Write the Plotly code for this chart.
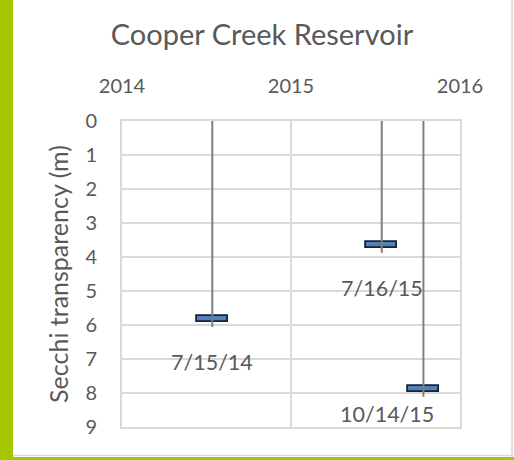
import plotly.graph_objects as go

# ---- data ----
dates = ["2014-07-15", "2015-07-16", "2015-10-14"]
labels = ["7/15/14", "7/16/15", "10/14/15"]
secchi = [5.82, 3.64, 7.87]
year_ticks = ["2014-01-01", "2015-01-01", "2016-01-01"]
year_labels = ["2014", "2015", "2016"]
depth_ticks = list(range(0, 10))

# ---- style ----
FONT = "Lato"
TXT = "#595959"
GRID = "#d9d9d9"
GREEN = "#a5c500"
W, H = 514, 460
ML, MR, MT, MB = 122, 54, 121, 33
tail = 0.24          # line extends a little below the marker
bar_half = 0.09      # half thickness of marker rectangle (data units)
bar_w_ms = 67 * 86400000
label_shift = [(0, -43), (0, -43), (-36, -25)]

fig = go.Figure()

# vertical drop lines from surface to Secchi depth
lx, ly = [], []
for d, v in zip(dates, secchi):
    lx += [d, d, None]
    ly += [0, v + tail, None]
fig.add_trace(go.Scatter(x=lx, y=ly, mode="lines",
                         line=dict(color="#7f7f7f", width=2),
                         hoverinfo="skip", showlegend=False))

# marker rectangles
fig.add_trace(go.Bar(x=dates, y=[2 * bar_half] * len(secchi),
                     base=[v - bar_half for v in secchi],
                     width=[bar_w_ms] * len(secchi),
                     marker=dict(color="#4f81bd", line=dict(color="#1a2330", width=1.8)),
                     showlegend=False))

for d, v, t, (dx, dy) in zip(dates, secchi, labels, label_shift):
    fig.add_annotation(x=d, y=v, text=t, showarrow=False,
                       xshift=dx, yshift=dy,
                       font=dict(family=FONT, size=21.5, color=TXT))

pw = W - ML - MR
ph = H - MT - MB
# green frame on left and bottom, thin gray border
fig.add_shape(type="rect", xref="paper", yref="paper",
              x0=-ML / pw - 0.01, x1=(13 - ML) / pw, y0=-MB / ph - 0.01,
              y1=1 + MT / ph + 0.01,
              fillcolor=GREEN, line=dict(width=0), layer="above")
fig.add_shape(type="rect", xref="paper", yref="paper",
              x0=-ML / pw - 0.01, x1=1 + MR / pw + 0.01,
              y0=-MB / ph - 0.01, y1=-(MB - 3) / ph,
              fillcolor=GREEN, line=dict(width=0), layer="above")
fig.add_shape(type="line", xref="paper", yref="paper",
              x0=1 + (MR - 2) / pw, x1=1 + (MR - 2) / pw,
              y0=-(MB - 3) / ph, y1=1 + MT / ph,
              line=dict(color="#d9d9d9", width=1.5))
fig.add_shape(type="line", xref="paper", yref="paper",
              x0=(13 - ML) / pw, x1=1 + (MR - 2) / pw,
              y0=-(MB - 4.5) / ph, y1=-(MB - 4.5) / ph,
              line=dict(color="#d9d9d9", width=1.5))

fig.update_layout(
    width=W, height=H,
    margin=dict(l=ML, r=MR, t=MT, b=MB, autoexpand=False),
    paper_bgcolor="white", plot_bgcolor="white",
    bargap=0,
    title=dict(text="Cooper Creek Reservoir", x=262 / W, xref="container",
               xanchor="center", y=1 - 35 / H, yref="container", yanchor="middle",
               font=dict(family=FONT, size=29, color=TXT)),
    font=dict(family=FONT, color=TXT),
)
fig.update_xaxes(type="date", side="top",
                 range=[year_ticks[0], year_ticks[-1]],
                 tickvals=year_ticks, ticktext=year_labels,
                 showgrid=True, gridcolor=GRID, gridwidth=2,
                 showline=True, linecolor=GRID, linewidth=2, mirror=True,
                 ticks="", ticklabelstandoff=18,
                 tickfont=dict(family=FONT, size=20, color=TXT),
                 zeroline=False, fixedrange=True)
fig.update_yaxes(range=[9, 0], tickvals=depth_ticks,
                 showgrid=True, gridcolor=GRID, gridwidth=2,
                 showline=True, linecolor=GRID, linewidth=2, mirror=True,
                 ticks="", ticklabelstandoff=19,
                 tickfont=dict(family=FONT, size=20, color=TXT),
                 title=dict(text="Secchi transparency (m)", standoff=10,
                            font=dict(family=FONT, size=25, color=TXT)),
                 zeroline=False, fixedrange=True)

fig.write_html("out.html", config={"displayModeBar": False},
               post_script="document.body.style.margin='0';document.body.style.overflow='hidden';")
